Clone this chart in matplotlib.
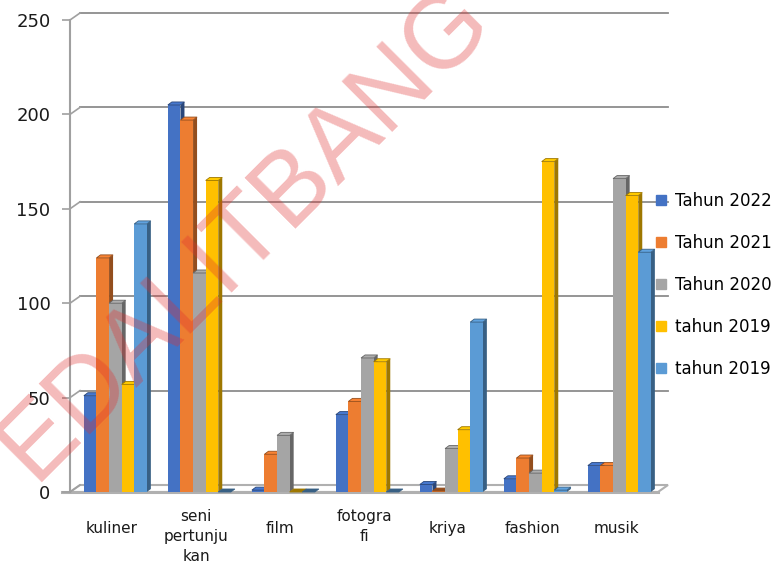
import matplotlib
matplotlib.use("Agg")
import matplotlib.pyplot as plt
from matplotlib.patches import Polygon
from matplotlib.lines import Line2D
import matplotlib.colors as mcolors

categories = ["kuliner", "seni\npertunju\nkan", "film", "fotogra\nfi", "kriya", "fashion", "musik"]
series_names = ["Tahun 2022", "Tahun 2021", "Tahun 2020", "tahun 2019", "tahun 2019"]
tahun_2022 = [51, 205, 1, 41, 4, 7, 14]
tahun_2021 = [124, 197, 20, 48, 0.5, 18, 14]
tahun_2020 = [100, 116, 30, 71, 23, 10, 166]
tahun_2019a = [57, 165, 0, 69, 33, 175, 157]
tahun_2019b = [142, 0, 0, 0, 90, 1, 127]
series_values = [tahun_2022, tahun_2021, tahun_2020, tahun_2019a, tahun_2019b]
colors = ["#4472C4", "#ED7D31", "#A5A5A5", "#FFC000", "#5B9BD5"]
yticks = [0, 50, 100, 150, 200, 250]

W, H = 784, 568
fig = plt.figure(figsize=(W / 100, H / 100), dpi=100)
ax_l, ax_r, ax_b, ax_t = 70, 658, 492, 20
ax = fig.add_axes([ax_l / W, (H - ax_b) / H, (ax_r - ax_l) / W, (ax_b - ax_t) / H])
ax.set_xlim(-0.5, 6.5)
ax.set_ylim(0, 250)
for s in ax.spines.values():
    s.set_visible(False)
ax.set_xticks([])

px_x = (ax_r - ax_l) / 7.0
px_y = (ax_b - ax_t) / 250.0
DX, DY = 10 / px_x, 7 / px_y        # back-wall offset
bdx, bdy = 4 / px_x, 3 / px_y       # bar depth

grid_c = "#8c8c8c"
# floor
floor = Polygon([(-0.5, 0), (6.5, 0), (6.5 + DX, DY), (-0.5 + DX, DY)], closed=True,
                facecolor="white", edgecolor="#b0b0b0", lw=1.5, clip_on=False, zorder=1)
ax.add_patch(floor)
ax.plot([-0.6, 6.5], [0, 0], color="#b0b0b0", lw=2.2, clip_on=False, zorder=1)
# back gridlines and connectors
for v in yticks:
    if v > 0:
        ax.plot([-0.5 + DX, 6.5 + DX], [v + DY, v + DY], color=grid_c, lw=1.3, clip_on=False, zorder=1)
    ax.plot([-0.5, -0.5 + DX], [v, v + DY], color="#a0a0a0", lw=1.2, clip_on=False, zorder=1)
ax.plot([-0.5, -0.5], [0, 250], color="#a0a0a0", lw=1.5, clip_on=False, zorder=1)

ax.set_yticks(yticks)
ax.set_yticklabels([str(v) for v in yticks], fontsize=13, color="#1a1a1a")
ax.tick_params(axis="y", length=6, width=1.2, color="#a0a0a0", pad=8)

bw = 0.15
z = 3
for ci in range(len(categories)):
    for si, vals in enumerate(series_values):
        v = vals[ci]
        x0 = ci + (si - 2) * bw - bw / 2 + 0.04
        x1 = x0 + bw
        base = mcolors.to_rgb(colors[si])
        dark = tuple(c * 0.62 for c in base)
        top = tuple(min(1, c * 1.05) for c in base)
        front = Polygon([(x0, 0), (x1, 0), (x1, v), (x0, v)], closed=True,
                        facecolor=base, edgecolor="none", zorder=z, clip_on=False)
        side = Polygon([(x1, 0), (x1 + bdx, bdy), (x1 + bdx, v + bdy), (x1, v)], closed=True,
                       facecolor=dark, edgecolor="none", zorder=z - 0.5, clip_on=False)
        topf = Polygon([(x0, v), (x1, v), (x1 + bdx, v + bdy), (x0 + bdx, v + bdy)], closed=True,
                       facecolor=dark if v < 1 else top, edgecolor=dark, lw=0.6, zorder=z, clip_on=False)
        ax.add_patch(side)
        ax.add_patch(front)
        ax.add_patch(topf)
        z += 1

# category labels
for ci, lab in enumerate(categories):
    if "\n" in lab:
        ax.annotate(lab, xy=(ci, 0), xycoords=("data", "axes fraction"), xytext=(0, -12),
                    textcoords="offset points", ha="center", va="top", fontsize=11,
                    linespacing=1.45, color="#1a1a1a")
    else:
        ax.annotate(lab, xy=(ci, 0), xycoords=("data", "axes fraction"), xytext=(0, -26),
                    textcoords="offset points", ha="center", va="center", fontsize=11,
                    color="#1a1a1a")

handles = [Line2D([], [], marker="s", linestyle="none", markersize=7, color=c) for c in colors]
leg = fig.legend(handles, series_names, loc="upper left", bbox_to_anchor=(646 / W, 1 - 184 / H),
                 frameon=False, fontsize=12, handlelength=0.8, handletextpad=0.45,
                 labelspacing=1.43, borderpad=0)
leg.set_zorder(50)

# watermark
fig.text(245 / W, 1 - 234 / H, "EDALITBANG", fontsize=74, family="Liberation Sans",
         color="#e03030", alpha=0.33, rotation=45, ha="center", va="center",
         rotation_mode="anchor", zorder=100)

fig.savefig("out.png", dpi=100)
